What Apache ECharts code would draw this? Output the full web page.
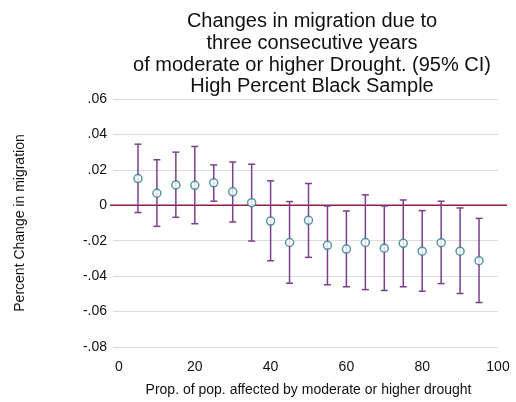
<!DOCTYPE html>
<html>
<head>
<meta charset="utf-8">
<script src="https://cdn.jsdelivr.net/npm/echarts@6/dist/echarts.min.js"></script>
<style>
html,body{margin:0;padding:0;background:#fff;}
#c{width:516px;height:402px;}
</style>
</head>
<body>
<div id="c"></div>
<script>
const xValues = [5,10,15,20,25,30,35,40,45,50,55,60,65,70,75,80,85,90,95];
const estimates = [0.0151,0.0068,0.0115,0.0113,0.0127,0.0076,0.0015,-0.0089,-0.0210,-0.0085,-0.0226,-0.0247,-0.0210,-0.0242,-0.0215,-0.0259,-0.0211,-0.0259,-0.0313];
const upperCI = [0.0345,0.0257,0.0300,0.0332,0.0228,0.0244,0.0232,0.0138,0.0021,0.0123,-0.0004,-0.0032,0.0059,-0.0004,0.0030,-0.0030,0.0023,-0.0015,-0.0074];
const lowerCI = [-0.0041,-0.0119,-0.0068,-0.0104,0.0023,-0.0094,-0.0202,-0.0313,-0.0440,-0.0294,-0.0449,-0.0460,-0.0476,-0.0481,-0.0460,-0.0485,-0.0442,-0.0498,-0.0549];
const yTicks = [-0.08,-0.06,-0.04,-0.02,0,0.02,0.04,0.06];
const xTicks = [0,20,40,60,80,100];
const titleLines = ["Changes in migration due to","three consecutive years","of moderate or higher Drought. (95% CI)","High Percent Black Sample"];

const FONT = '"Liberation Sans", Arial, Helvetica, sans-serif';
const chart = echarts.init(document.getElementById('c'), null, {renderer:'canvas'});

function fmtY(v){
  if (Math.abs(v) < 1e-9) return '0';
  let s = v.toFixed(2);
  return s.replace(/^(-?)0\./, '$1.');
}

const errData = xValues.map((x,i)=>[x, lowerCI[i], upperCI[i]]);
const ptData = xValues.map((x,i)=>[x, estimates[i]]);

const option = {
  backgroundColor:'#ffffff',
  animation:false,
  title:{
    text: titleLines.join('\n'),
    left: 307, top: 6, textAlign:'center',
    textStyle:{fontFamily:FONT, fontSize:20, fontWeight:'normal', color:'#111', lineHeight:21.7}
  },
  grid:{left:119, right:18, top:99, bottom:55},
  xAxis:{
    type:'value', min:xTicks[0], max:xTicks[xTicks.length-1], interval:20,
    name:'Prop. of pop. affected by moderate or higher drought',
    nameLocation:'middle', nameGap:36,
    nameTextStyle:{fontFamily:FONT, fontSize:14, color:'#111'},
    axisLine:{show:false}, axisTick:{show:false}, splitLine:{show:false},
    axisLabel:{fontFamily:FONT, fontSize:14, color:'#111', margin:13}
  },
  yAxis:{
    type:'value', min:yTicks[0], max:yTicks[yTicks.length-1], interval:0.02,
    name:'Percent Change in migration',
    nameLocation:'middle', nameGap:92, nameRotate:90,
    nameTextStyle:{fontFamily:FONT, fontSize:14, color:'#111'},
    axisLine:{show:false},
    axisTick:{show:true, length:6, lineStyle:{color:'#d8d8d8'}},
    splitLine:{show:true, lineStyle:{color:'#dcdcdc', width:1}},
    axisLabel:{fontFamily:FONT, fontSize:14, color:'#111', margin:12, formatter:fmtY}
  },
  series:[
    {
      type:'custom', z:1, silent:true,
      data:[[0,0]],
      renderItem:function(params, api){
        const a = api.coord([xTicks[0],0]);
        const b = api.coord([xTicks[xTicks.length-1],0]);
        return {type:'line', shape:{x1:a[0]-9, y1:a[1], x2:b[0]+9, y2:b[1]},
          style:{stroke:'#8e1f3f', lineWidth:1.5}};
      }
    },
    {
      type:'custom', z:2, silent:true,
      data: errData,
      renderItem:function(params, api){
        const x = api.value(0);
        const lo = api.coord([x, api.value(1)]);
        const hi = api.coord([x, api.value(2)]);
        const cw = 3.5;
        const st = {stroke:'#7b3f8e', lineWidth:1.5};
        return {type:'group', children:[
          {type:'line', shape:{x1:lo[0], y1:lo[1], x2:hi[0], y2:hi[1]}, style:st},
          {type:'line', shape:{x1:hi[0]-cw, y1:hi[1], x2:hi[0]+cw, y2:hi[1]}, style:st},
          {type:'line', shape:{x1:lo[0]-cw, y1:lo[1], x2:lo[0]+cw, y2:lo[1]}, style:st}
        ]};
      }
    },
    {
      type:'scatter', z:3, data: ptData,
      symbol:'circle', symbolSize:8,
      itemStyle:{color:'#ffffff', borderColor:'#2a7d93', borderWidth:1.5}
    }
  ]
};
chart.setOption(option);
</script>
</body>
</html>
